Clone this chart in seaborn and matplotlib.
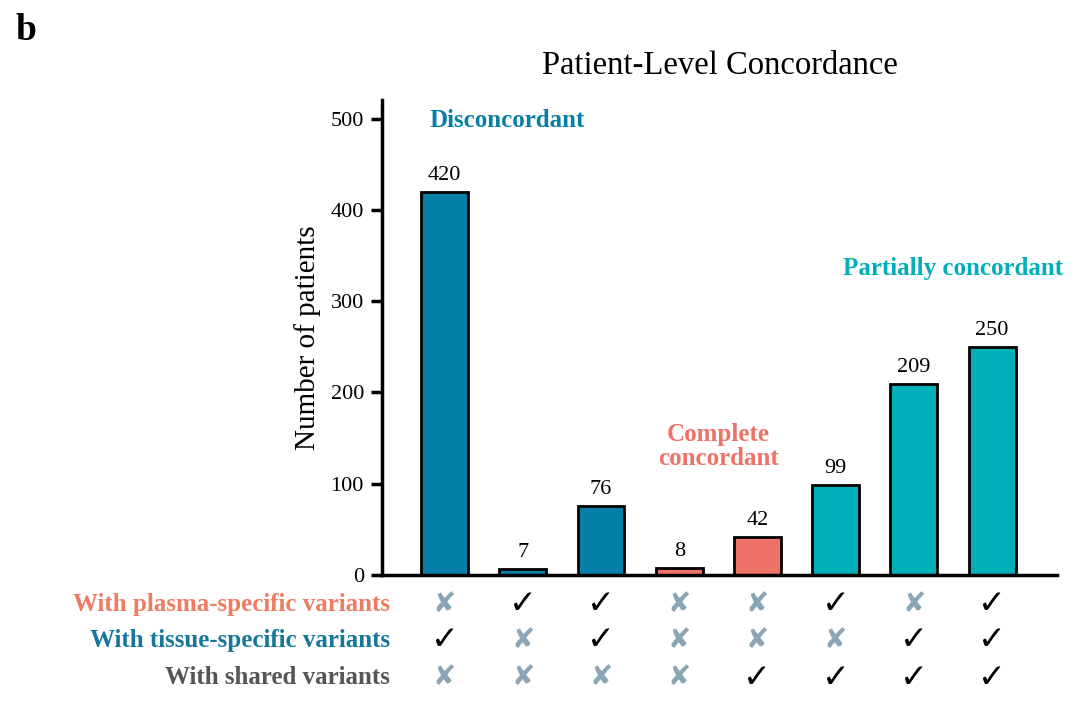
import numpy as np
import pandas as pd
import matplotlib
matplotlib.use("Agg")
import matplotlib.pyplot as plt
import matplotlib.transforms as mtransforms
import seaborn as sns

counts = [420, 7, 76, 8, 42, 99, 209, 250]
groups = ["Disconcordant", "Disconcordant", "Disconcordant", "Complete", "Complete",
          "Partial", "Partial", "Partial"]
plasma = [0, 1, 1, 0, 0, 1, 0, 1]
tissue = [1, 0, 1, 0, 0, 0, 1, 1]
shared = [0, 0, 0, 0, 1, 1, 1, 1]
row_labels = ["With plasma-specific variants", "With tissue-specific variants", "With shared variants"]

c_blue = "#0780A7"
c_coral = "#EF7268"
c_teal = "#00B0B9"
c_cross = "#8AA6B6"
palette = {"Disconcordant": c_blue, "Complete": c_coral, "Partial": c_teal}
row_colors = ["#EE7B62", "#17779B", "#555555"]

df = pd.DataFrame({"pos": list(range(len(counts))), "count": counts, "group": groups})

sns.set_style("ticks")
plt.rcParams["font.family"] = ["Liberation Serif", "DejaVu Serif"]
plt.rcParams["text.color"] = "black"
plt.rcParams["axes.labelcolor"] = "black"
plt.rcParams["xtick.color"] = "black"
plt.rcParams["ytick.color"] = "black"
plt.rcParams["axes.edgecolor"] = "black"

fig = plt.figure(figsize=(10.8, 7.06), dpi=100)
ax = fig.add_axes([0.3537, 0.1856, 0.625, 0.6724])

sns.barplot(data=df, x="pos", y="count", hue="group", palette=palette, dodge=False,
            width=0.6, edgecolor="black", linewidth=2, saturation=1, legend=False, ax=ax)

for cont in ax.containers:
    ax.bar_label(cont, padding=5, fontsize=16)

ax.set_xlim(-0.8, 7.83)
ax.set_ylim(0, 520)
ax.set_yticks([0, 100, 200, 300, 400, 500])
ax.set_xticks([])
ax.set_xlabel("")
ax.set_ylabel("Number of patients", fontsize=21, labelpad=7)
ax.tick_params(axis="y", labelsize=16, width=2.5, length=8, pad=5, direction="out")
sns.despine(ax=ax)
for s in ["left", "bottom"]:
    ax.spines[s].set_linewidth(2.5)

ax.set_title("Patient-Level Concordance", fontsize=23.5, pad=19)

ax.text(0.8, 498, "Disconcordant", color=c_blue, fontsize=18, fontweight="bold",
        ha="center", va="center")
ax.text(3.5, 141, "Complete\nconcordant", color=c_coral, fontsize=18, fontweight="bold",
        ha="center", va="center", linespacing=1.05)
ax.text(6.5, 336, "Partially concordant", color=c_teal, fontsize=18, fontweight="bold",
        ha="center", va="center")

trans = mtransforms.blended_transform_factory(ax.transData, fig.transFigure)
rows = [plasma, tissue, shared]
row_y = [1 - 604 / 706, 1 - 640 / 706, 1 - 677 / 706]
for r, (vals, yy) in enumerate(zip(rows, row_y)):
    fig.text(390 / 1080, yy, row_labels[r], color=row_colors[r], fontsize=18,
             fontweight="bold", ha="right", va="center")
    for i, v in enumerate(vals):
        if v:
            ax.text(i, yy, "\u2713", transform=trans, ha="center", va="center",
                    fontsize=24, color="black", fontweight="bold",
                    family="DejaVu Sans", clip_on=False)
        else:
            ax.text(i, yy, "\u2718", transform=trans, ha="center", va="center",
                    fontsize=20, color=c_cross, family="DejaVu Sans", clip_on=False)

fig.text(15 / 1080, 1 - 31 / 706, "b", fontsize=27, fontweight="bold", va="center", ha="left")

fig.savefig("out.png", dpi=100)
